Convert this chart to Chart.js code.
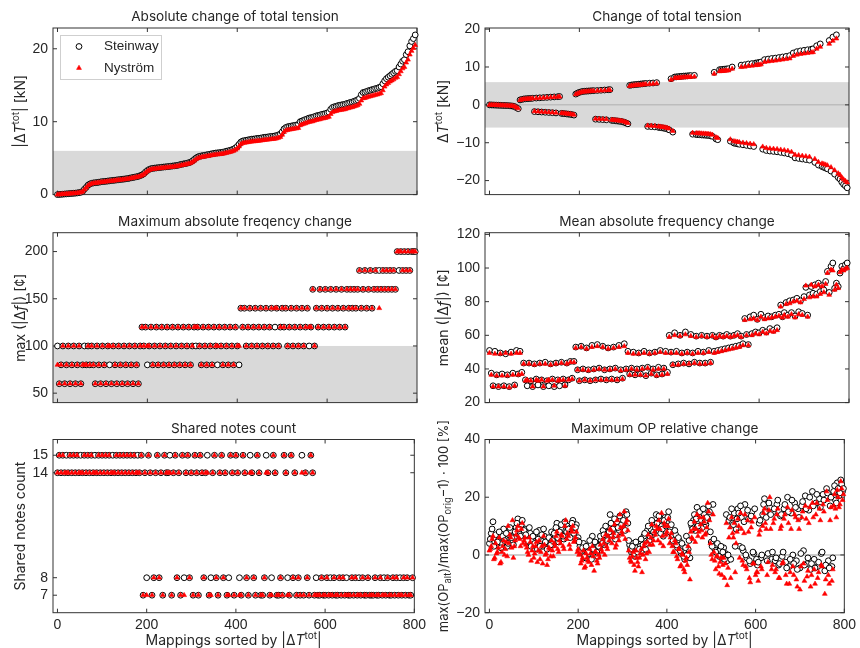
<!DOCTYPE html>
<html>
<head>
<meta charset="utf-8">
<script src="https://cdn.jsdelivr.net/npm/chart.js@4.4.1/dist/chart.umd.min.js"></script>
<style>
  body { margin: 0; background: #fff; }
  #wrap { position: relative; width: 860px; height: 648px; }
  canvas { position: absolute; }
</style>
</head>
<body>
<div id="wrap">
  <canvas id="p1" width="430" height="208" style="left:0;top:0"></canvas>
  <canvas id="p2" width="430" height="208" style="left:430px;top:0"></canvas>
  <canvas id="p3" width="430" height="208" style="left:0;top:208px"></canvas>
  <canvas id="p4" width="430" height="208" style="left:430px;top:208px"></canvas>
  <canvas id="p5" width="430" height="232" style="left:0;top:416px"></canvas>
  <canvas id="p6" width="430" height="232" style="left:430px;top:416px"></canvas>
</div>
<script>
// mappings are plotted every 4th index (0..796)
const SAMPLE_STEP = 4;
const mappings = Array.from({ length: 200 }, (_, i) => i * SAMPLE_STEP);
// extra in-between mappings (2..798) used for the scattered OP panel
const mappingsMid = mappings.map(m => m + 2);
const xTicks = [0, 200, 400, 600, 800];

// |dT tot| [kN]
const absTensionSteinway = [
  0.0, 0.02, 0.04, 0.06, 0.08, 0.1, 0.12, 0.14, 0.16, 0.18, 0.2, 0.23, 0.27, 0.32, 0.45, 0.75, 1.0, 1.3, 1.45, 1.55,
  1.6, 1.63, 1.66, 1.7, 1.74, 1.78, 1.8, 1.83, 1.86, 1.89, 1.92, 1.95, 1.98, 2.01, 2.04, 2.07, 2.1, 2.13, 2.16, 2.2,
  2.25, 2.3, 2.35, 2.4, 2.45, 2.5, 2.6, 2.7, 2.85, 3.1, 3.3, 3.45, 3.55, 3.6, 3.63, 3.66, 3.69, 3.72, 3.75, 3.78,
  3.8, 3.83, 3.86, 3.89, 3.92, 3.95, 3.98, 4.02, 4.1, 4.15, 4.2, 4.25, 4.3, 4.38, 4.45, 4.6, 4.8, 5.0, 5.15, 5.25,
  5.3, 5.35, 5.4, 5.45, 5.5, 5.55, 5.6, 5.65, 5.7, 5.72, 5.75, 5.78, 5.82, 5.88, 5.95, 6.0, 6.08, 6.15, 6.25, 6.4,
  6.6, 6.9, 7.2, 7.35, 7.4, 7.45, 7.5, 7.55, 7.6, 7.62, 7.65, 7.7, 7.72, 7.75, 7.8, 7.85, 7.88, 7.9, 7.95, 7.98,
  8.0, 8.05, 8.1, 8.2, 8.3, 8.6, 9.0, 9.2, 9.3, 9.35, 9.4, 9.45, 9.5, 9.55, 9.6, 10.0, 10.1, 10.2, 10.3, 10.4,
  10.5, 10.55, 10.6, 10.7, 10.8, 10.85, 10.9, 11.0, 11.05, 11.1, 11.2, 11.3, 11.7, 11.95, 12.05, 12.1, 12.2, 12.25, 12.3, 12.35,
  12.4, 12.5, 12.55, 12.65, 12.7, 12.8, 12.9, 13.0, 13.2, 13.7, 14.0, 14.05, 14.15, 14.25, 14.3, 14.4, 14.45, 14.55, 14.6, 14.7,
  14.8, 15.2, 15.6, 15.9, 16.1, 16.3, 16.5, 16.7, 16.9, 17.0, 17.5, 17.9, 18.3, 18.5, 19.2, 19.6, 20.4, 21.0, 21.4, 21.9
];
const absTensionNystrom = [
  0.0, 0.02, 0.04, 0.06, 0.08, 0.1, 0.12, 0.13, 0.15, 0.17, 0.19, 0.22, 0.26, 0.3, 0.42, 0.7, 0.95, 1.25, 1.4, 1.5,
  1.55, 1.58, 1.61, 1.65, 1.69, 1.73, 1.75, 1.78, 1.81, 1.84, 1.87, 1.9, 1.93, 1.96, 1.99, 2.02, 2.05, 2.08, 2.11, 2.15,
  2.2, 2.24, 2.29, 2.34, 2.39, 2.44, 2.53, 2.63, 2.78, 3.0, 3.2, 3.35, 3.45, 3.5, 3.53, 3.56, 3.59, 3.62, 3.65, 3.68,
  3.7, 3.72, 3.75, 3.78, 3.81, 3.84, 3.87, 3.9, 3.97, 4.02, 4.07, 4.12, 4.17, 4.24, 4.31, 4.45, 4.64, 4.83, 4.98, 5.07,
  5.12, 5.17, 5.21, 5.26, 5.3, 5.35, 5.4, 5.44, 5.49, 5.5, 5.53, 5.56, 5.6, 5.65, 5.72, 5.77, 5.84, 5.9, 6.0, 6.14,
  6.3, 6.6, 6.9, 7.05, 7.1, 7.14, 7.18, 7.22, 7.27, 7.29, 7.31, 7.35, 7.37, 7.4, 7.44, 7.48, 7.51, 7.53, 7.57, 7.6,
  7.62, 7.66, 7.71, 7.8, 7.9, 8.2, 8.58, 8.77, 8.86, 8.9, 8.95, 9.0, 9.04, 9.08, 9.13, 9.5, 9.6, 9.7, 9.78, 9.87,
  9.96, 10.0, 10.05, 10.14, 10.23, 10.28, 10.32, 10.41, 10.45, 10.5, 10.58, 10.67, 11.05, 11.3, 11.4, 11.45, 11.54, 11.58, 11.62, 11.66,
  11.7, 11.8, 11.85, 11.94, 11.98, 12.07, 12.16, 12.25, 12.44, 12.9, 13.2, 13.24, 13.33, 13.42, 13.47, 13.55, 13.6, 13.69, 13.73, 13.82,
  13.9, 14.3, 14.8, 15.1, 15.3, 15.5, 15.65, 15.8, 16.0, 16.1, 16.5, 16.9, 17.3, 17.5, 18.1, 18.5, 19.2, 19.7, 20.1, 20.5
];

// dT tot [kN]
const tensionSteinway = [
  0, -0.02, -0.04, -0.06, -0.08, -0.1, -0.12, -0.14, -0.16, -0.18, -0.2, -0.23, -0.27, -0.32, -0.45, -0.75, -1.0, 1.3, 1.45, 1.55,
  1.6, 1.63, 1.66, 1.7, 1.74, -1.78, 1.8, -1.83, 1.86, -1.89, 1.92, -1.95, 1.98, -2.01, 2.04, -2.07, 2.1, -2.13, 2.16, 2.2,
  -2.25, -2.3, -2.35, -2.4, -2.45, -2.5, -2.6, -2.7, 2.85, 3.1, 3.3, 3.45, 3.55, 3.6, 3.63, 3.66, 3.69, 3.72, 3.75, -3.78,
  3.8, -3.83, 3.86, -3.89, 3.92, -3.95, 3.98, 4.02, -4.1, -4.15, -4.2, -4.25, -4.3, -4.38, -4.45, -4.6, -4.8, -5.0, 5.15, 5.25,
  5.3, 5.35, 5.4, 5.45, 5.5, 5.55, 5.6, 5.65, -5.7, 5.72, -5.75, 5.78, -5.82, 5.88, -5.95, -6.0, -6.08, -6.15, -6.25, -6.4,
  -6.6, 6.9, -7.2, 7.35, 7.4, 7.45, 7.5, 7.55, 7.6, 7.62, 7.65, 7.7, 7.72, -7.75, 7.8, -7.85, -7.88, -7.9, -7.95, -7.98,
  -8.0, -8.05, -8.1, -8.2, -8.3, 8.6, -9.0, -9.2, 9.3, 9.35, 9.4, 9.45, 9.5, 9.55, -9.6, 10.0, -10.1, -10.2, -10.3, -10.4,
  10.5, -10.55, 10.6, -10.7, 10.8, -10.85, 10.9, -11.0, 11.05, 11.1, 11.2, 11.3, -11.7, 11.95, -12.05, 12.1, -12.2, 12.25, -12.3, 12.35,
  -12.4, 12.5, -12.55, 12.65, -12.7, 12.8, -12.9, 13.0, -13.2, 13.7, -14.0, 14.05, -14.15, 14.25, -14.3, 14.4, -14.45, 14.55, -14.6, 14.7,
  14.8, -15.2, 15.6, -15.9, 16.1, -16.3, -16.5, -16.7, -16.9, 17.0, -17.5, 17.9, -18.3, 18.5, -19.2, -19.6, -20.4, -21.0, -21.4, -21.9
];
const tensionNystrom = [
  0, -0.02, -0.04, -0.06, -0.08, -0.1, -0.12, -0.13, -0.15, -0.17, -0.19, -0.22, -0.26, -0.3, -0.42, -0.7, -0.95, 1.25, 1.4, 1.5,
  1.55, 1.58, 1.61, 1.65, 1.69, -1.73, 1.75, -1.78, 1.81, -1.84, 1.87, -1.9, 1.93, -1.96, 1.99, -2.02, 2.05, -2.08, 2.11, 2.15,
  -2.2, -2.24, -2.29, -2.34, -2.39, -2.44, -2.53, -2.63, 2.78, 3.0, 3.2, 3.35, 3.45, 3.5, 3.53, 3.56, 3.59, 3.62, 3.65, -3.68,
  3.7, -3.72, 3.75, -3.78, 3.81, -3.84, 3.87, 3.9, -3.97, -4.02, -4.07, -4.12, -4.17, -4.24, -4.31, -4.45, -4.64, -4.83, 4.98, 5.07,
  5.12, 5.17, 5.21, 5.26, 5.3, 5.35, 5.4, 5.44, -5.49, 5.5, -5.53, 5.56, -5.6, 5.65, -5.72, -5.77, -5.84, -5.9, -6.0, -6.14,
  -6.3, 6.6, -6.9, 7.05, 7.1, 7.14, 7.18, 7.22, 7.27, 7.29, 7.31, 7.35, 7.37, -7.4, 7.44, -7.48, -7.51, -7.53, -7.57, -7.6,
  -7.62, -7.66, -7.71, -7.8, -7.9, 8.2, -8.58, -8.77, 8.86, 8.9, 8.95, 9.0, 9.04, 9.08, -9.13, 9.5, -9.6, -9.7, -9.78, -9.87,
  9.96, -10.0, 10.05, -10.14, 10.23, -10.28, 10.32, -10.41, 10.45, 10.5, 10.58, 10.67, -11.05, 11.3, -11.4, 11.45, -11.54, 11.58, -11.62, 11.66,
  -11.7, 11.8, -11.85, 11.94, -11.98, 12.07, -12.16, 12.25, -12.44, 12.9, -13.2, 13.24, -13.33, 13.42, -13.47, 13.55, -13.6, 13.69, -13.73, 13.82,
  13.9, -14.3, 14.8, -15.1, 15.3, -15.5, -15.65, -15.8, -16.0, 16.1, -16.5, 16.9, -17.3, 17.5, -18.1, -18.5, -19.2, -19.7, -20.1, -20.5
];

// max(|df|) [cent]
const maxDfSteinway = [
  100, 60, 80, 100, 60, 80, 100, 60, 80, 100, 60, 80, 100, 60, 80, 100, 80, 100, 80, 100,
  80, 60, 100, 80, 60, 100, 80, 60, 100, 80, 60, 100, 80, 60, 100, 80, 60, 100, 80, 60,
  100, 80, 60, 100, 80, 60, 100, 120, 100, 120, 80, 100, 120, 80, 100, 120, 80, 100, 120, 80,
  100, 120, 80, 100, 120, 80, 100, 120, 80, 100, 120, 80, 100, 120, 80, 100, 120, 100, 120, 100,
  80, 120, 100, 80, 120, 100, 80, 120, 100, 80, 120, 100, 80, 120, 100, 80, 120, 100, 80, 120,
  100, 80, 140, 120, 140, 100, 120, 140, 100, 120, 140, 100, 120, 140, 100, 120, 140, 100, 120, 140,
  100, 120, 140, 100, 120, 140, 120, 140, 100, 120, 140, 100, 120, 140, 100, 120, 140, 100, 120, 140,
  100, 120, 160, 100, 140, 120, 160, 140, 120, 160, 140, 120, 160, 140, 120, 160, 140, 120, 160, 140,
  120, 160, 140, 160, 140, 160, 140, 160, 180, 140, 160, 180, 140, 160, 180, 140, 160, 180, 160, 180,
  160, 180, 160, 180, 160, 180, 160, 180, 160, 200, 180, 200, 180, 200, 180, 200, 180, 200, 200, 200
];
const maxDfNystrom = [
  80, 60, 80, 100, 60, 80, 100, 60, 80, 100, 60, 80, 100, 60, 80, 80, 80, 100, 80, 100,
  80, 60, 100, 80, 60, 100, 80, 60, 100, 100, 60, 100, 80, 60, 100, 80, 60, 100, 80, 60,
  100, 80, 60, 100, 80, 60, 100, 120, 100, 120, 100, 100, 120, 80, 100, 120, 80, 100, 120, 80,
  100, 120, 80, 100, 120, 80, 100, 120, 80, 100, 120, 80, 100, 120, 80, 100, 120, 120, 120, 100,
  80, 120, 100, 80, 120, 100, 80, 120, 100, 100, 120, 100, 80, 120, 100, 80, 120, 100, 80, 120,
  100, 100, 140, 120, 140, 100, 120, 140, 100, 120, 140, 100, 120, 140, 100, 120, 140, 100, 120, 140,
  100, 140, 140, 100, 120, 140, 120, 140, 100, 120, 140, 100, 120, 140, 100, 120, 140, 100, 120, 140,
  120, 120, 160, 100, 140, 120, 160, 140, 120, 160, 140, 120, 160, 140, 120, 160, 140, 120, 160, 140,
  120, 160, 140, 160, 140, 160, 140, 160, 180, 140, 160, 180, 140, 160, 180, 140, 160, 180, 160, 140,
  160, 180, 160, 180, 160, 180, 160, 180, 160, 200, 200, 200, 180, 200, 180, 200, 180, 200, 200, 200
];

// mean(|df|) [cent]
const meanDfSteinway = [
  51, 37.5, 30, 50.5, 36.5, 29.5, 49.5, 37, 30, 49, 36.5, 29.5, 50, 37.5, 30.5, 51, 37, 50.5, 38, 43.5,
  33.5, 30, 43.5, 33, 29.5, 43, 34, 30.5, 43.5, 33.5, 29.5, 44, 33, 30, 43, 34, 29.5, 43.5, 33.5, 30,
  44, 34, 30.5, 43.5, 33.5, 44.5, 34.5, 44.5, 53, 39.5, 33, 53.5, 40, 33.5, 52.5, 39.5, 33, 54, 40, 33.5,
  54.5, 40.5, 34, 53.5, 39.5, 33.5, 52.5, 40, 34, 53, 40.5, 33.5, 54, 39.5, 34.5, 55, 40, 50.5, 37, 40.5,
  50, 36.5, 40, 49.5, 37, 40.5, 50.5, 36, 41, 49.5, 37.5, 40, 50, 36.5, 41, 51, 37, 40.5, 50.5, 38,
  60, 50, 42.5, 61.5, 50.5, 43, 60, 49.5, 43.5, 62, 50, 43, 60.5, 49.5, 44, 59.5, 50.5, 43.5, 60, 50,
  43.5, 59.5, 51, 44, 60, 50.5, 59, 51, 60, 51.5, 59.5, 52, 60.5, 52.5, 59.5, 53, 60, 53.5, 61, 54,
  59.5, 55, 70, 60.5, 54.5, 71, 61, 72, 62, 69.5, 61.5, 72.5, 63, 70.5, 62, 71.5, 64, 71, 63, 72,
  64.5, 72.5, 78, 71, 73.5, 79.5, 72, 80.5, 73.5, 81, 71.5, 82, 74, 80.5, 73, 83, 88.5, 72, 84, 89,
  85, 90, 84.5, 91, 86, 89.5, 87, 92, 98, 85.5, 101, 103, 88, 91, 89, 97, 101, 99.5, 102, 103
];
const meanDfNystrom = [
  49.5, 36.5, 29.5, 49, 36, 29.5, 49, 36, 29.5, 49.5, 36, 29, 49, 36.5, 30, 49.5, 36.5, 49.5, 37, 43,
  33, 33.5, 43, 33, 29.5, 42.5, 33.5, 33, 43, 33.5, 29.5, 43, 33, 33.5, 42.5, 33.5, 30, 43, 33, 33.5,
  43.5, 33.5, 30, 43, 33.5, 44, 34, 44, 52.5, 39.5, 33, 53, 39.5, 33.5, 52, 39, 33, 53, 39.5, 33.5,
  53.5, 40, 33.5, 53, 39.5, 33.5, 52, 39.5, 33.5, 52.5, 40, 33.5, 53, 39, 34, 53.5, 39.5, 49.5, 36.5, 40,
  49, 36.5, 39.5, 49, 36.5, 40, 49.5, 36, 40.5, 49, 37, 39.5, 49.5, 36, 40, 50, 36.5, 40, 49.5, 37,
  59, 49.5, 42.5, 60, 49.5, 42.5, 59.5, 49, 43, 60.5, 49.5, 43, 59.5, 49, 43.5, 59, 49.5, 43, 59.5, 49.5,
  43, 59, 50, 43.5, 59.5, 49.5, 58.5, 50, 59.5, 50.5, 59, 51, 59.5, 51.5, 59, 52, 59.5, 52.5, 60, 53,
  59, 54, 69, 60, 54, 69.5, 60, 70, 61, 69, 60.5, 71, 62, 69.5, 61, 70, 62.5, 70.5, 62, 71,
  63, 71.5, 77, 70.5, 72, 78.5, 71, 79, 72.5, 80, 70.5, 80.5, 72.5, 79.5, 72, 81.5, 89.5, 71, 82.5, 90,
  83, 89, 83, 90, 84.5, 89, 85.5, 90.5, 97, 84, 99, 98.5, 87, 90, 88, 97.5, 99, 98.5, 99.5, 100
];

// shared notes count
const sharedSteinway = [
  14, 15, 14, 15, 14, 15, 14, 15, 14, 15, 14, 15, 14, 15, 14, 15, 14, 15, 14, 15,
  14, 15, 14, 15, 14, 15, 14, 15, 14, 15, 14, 15, 14, 15, 14, 15, 14, 15, 14, 15,
  14, 15, 14, 15, 14, 15, 14, 15, 7, 14, 8, 15, 14, 7, 8, 14, 15, 8, 14, 7,
  15, 14, 14, 15, 7, 14, 15, 8, 14, 7, 15, 8, 14, 15, 8, 14, 7, 15, 14, 7,
  15, 14, 8, 14, 15, 7, 8, 14, 15, 8, 7, 14, 15, 8, 14, 7, 8, 15, 14, 7,
  15, 14, 8, 7, 15, 14, 8, 7, 15, 14, 8, 7, 15, 14, 7, 7, 8, 15, 14, 7,
  8, 15, 14, 7, 7, 8, 7, 15, 14, 8, 7, 15, 8, 14, 7, 8, 7, 15, 7, 14,
  8, 7, 15, 14, 7, 8, 7, 7, 8, 7, 7, 8, 7, 8, 7, 8, 7, 7, 8, 7,
  8, 7, 8, 7, 7, 8, 7, 8, 7, 8, 7, 8, 7, 7, 8, 7, 7, 7, 8, 7,
  7, 8, 7, 8, 7, 8, 7, 7, 8, 7, 8, 7, 8, 7, 8, 7, 8, 7, 7, 8
];
const sharedNystrom = [
  14, 15, 14, 15, 14, 14, 14, 15, 14, 15, 14, 15, 14, 14, 14, 15, 14, 15, 14, 15,
  14, 14, 14, 15, 14, 15, 14, 15, 14, 15, 14, 14, 14, 15, 14, 15, 14, 15, 14, 15,
  14, 15, 14, 15, 14, 14, 14, 15, 7, 14, 7, 15, 14, 7, 8, 14, 15, 8, 14, 7,
  15, 14, 14, 14, 7, 14, 15, 8, 14, 7, 15, 7, 14, 15, 8, 14, 7, 15, 14, 7,
  15, 14, 8, 14, 14, 7, 7, 14, 15, 8, 7, 14, 15, 8, 14, 7, 7, 15, 14, 7,
  15, 14, 7, 7, 15, 14, 8, 7, 14, 14, 8, 7, 15, 14, 7, 7, 8, 14, 14, 7,
  7, 15, 14, 7, 7, 8, 7, 15, 14, 7, 7, 15, 8, 14, 7, 8, 7, 14, 7, 14,
  8, 7, 15, 14, 7, 7, 7, 7, 8, 7, 7, 8, 7, 7, 7, 8, 7, 7, 8, 7,
  8, 7, 7, 7, 7, 8, 7, 8, 7, 7, 7, 8, 7, 7, 8, 7, 7, 7, 8, 7,
  7, 8, 7, 7, 7, 8, 7, 7, 8, 7, 8, 7, 7, 7, 8, 7, 8, 7, 7, 8
];

// max OP relative change [%], at mappings
const opSteinway = [
  4, 7.5, 11.5, 6, 3.5, 5, 6.5, 4, 9, 5.5, 3, 7, 8.5, 4.5, 6, 9.5, 12.5, 8, 10, 7,
  9, 6.5, 4.5, 7.5, 5, 3.5, 6, 2, 8.5, 5, 3, 6.5, 4, 2.5, 5.5, 8, 3.5, 6, 11, 4.5,
  7, 9, 5.5, 8.5, 10, 7.5, 9.5, 12, 8, 10.5, 6, 3, 1, 4, -1, 2, 0.5, 3.5, 6.5, 1.5,
  4, -0.5, 2.5, 5, 8.5, 3.5, 6, 9.5, 14, 7, 10, 5.5, 11.5, 8, 12.5, 10, 13, 15, 11, 3.5,
  1, 4, -0.5, 2.5, 0, 3, 1.5, 6.5, 2, 8.5, 5, 9, 7, 11, 14, 8.5, 12, 10, 6.5, 13,
  11, 15, 9, 6.5, 4, 7, 2.5, 5, 0.5, 3, -1.5, 6.5, 2, -1, 10, 12, 8.5, 16.5, 11, 13.5,
  9.5, 14, 10.5, 12.5, 15, 4.5, 17.5, 2, 3.5, 0, 1.5, -1, 2.5, 0.5, -2, 12, -1.5, 11, 14.5, 9,
  16, 3, 13, 1.5, 17.5, -1, 12.5, -3, 15, 0.5, -2.5, -3.5, 11, -1, 14, 19.5, 13, 0.5, 16.5, -1.5,
  15, -2, 17.5, -3.5, 13.5, -0.5, 16, -2.5, 20, -4, 14.5, 0, 18, -2, 16, -4.5, 17, 1.5, 20.5, -3,
  15.5, -5, 22, -1.5, 18, -4, 19.5, 0.5, 21, -5.5, 23, -2, 17, -4, 22, 19, 25, 20.5, 26, 22
];
const opNystrom = [
  1.5, 3, 6.5, -1, 0.5, 2.5, -3, 1, 5, 2, -0.5, 4, 6, 12, 3, 7, 10, 5.5, 9, 4,
  6, 2.5, 0, 4.5, 1.5, -1, 3, -2.5, 5, 1, -3, 3.5, 0.5, -1.5, 2, 5, -0.5, 3, 8, 1,
  4, 6.5, 2, 12, 7.5, 3.5, 9, 10, 5, 8, 2, 0.5, -2, 1.5, -4, -1, -2.5, 0.5, 3, -5.5,
  1, -3, -1, 2, 5.5, 0, 3, 6.5, 9, 4, 7.5, 2.5, 12, 5, 9.5, 7, 15, 11, 8.5, -1,
  -2.5, 1, -5.5, -1, -4, 0.5, -6, 3, -1.5, 4.5, 1, 6, 3.5, 8, 10, 5, 9, 14.5, 3, 10,
  8, 12.5, 6, 3, 1, 4, -1.5, 2, -3.5, 0, -6, -1, 3, -8.5, 6, 9, 4.5, 14, 8, 10.5,
  6, 11.5, 7.5, 18, 12, 0, 14, -2, -0.5, -4, -2.5, -7, -1, -3, -10.5, 6, -8, 7.5, 11, 4,
  12.5, -1, 9, -3.5, 14, -5, 8, -9.5, 11.5, -3, -7, -6, 7, -4, 10, 16, 9, -2.5, 20, -5,
  11, -6, 14, -8, 9, -3, 12.5, -7, 16.5, -10, 9, -4, 14, -8.5, 12, -12, 13, -3, 17, -7.5,
  11, -11, 18, -5, 14, -8, 16, -3.5, 17.5, -13.5, 22, -7, 12, -9, 17, 16, 22.5, 16.5, 25.5, 19
];
// max OP relative change [%], at in-between mappings
const opSteinwayMid = [
  5.5, 9, 3, 7, 4.5, 8, 2.5, 6.5, 5, 7.5, 4, 9.5, 6, 3.5, 8, 11, 9, 6.5, 12, 8.5,
  7, 5, 9.5, 3, 6.5, 4, 8, 5.5, 3, 7, 9, 4.5, 2, 6, 3.5, 5, 7.5, 9.5, 6, 8,
  10.5, 6.5, 11.5, 8, 9, 6, 11, 7.5, 9.5, 5, 4.5, 1.5, 2.5, -0.5, 3, 1, 5, -1.5, 2, 4.5,
  1, 3, 6.5, 4, 7, 10, 5, 8, 11, 9, 12.5, 7, 9.5, 13.5, 10.5, 12, 8.5, 14, 5, 2,
  3, 0.5, 4.5, 1, 2, 5.5, 3.5, 7.5, 4, 10, 6.5, 12, 8, 9.5, 11, 13.5, 7.5, 9, 12, 10,
  13, 8, 10.5, 5, 8.5, 3.5, 6, 1.5, 4, -0.5, 2.5, 0, 5, 11, 9, 14, 12.5, 10, 15, 12,
  16, 11.5, 13, 17, 8, 3, 5.5, 1, 4, -0.5, 3, 1, -1.5, 14, 0, 13, 16, 10.5, 3, 12.5,
  14.5, 17, 2.5, 11.5, 0, 15.5, -2, 13.5, 1, 16, -1.5, -2.5, 12, 0, 17.5, 15, -2, 18, 14, 1,
  16, -1, 19, -3, 14, 1, 17.5, -4.5, 15, -1.5, 19, -3, 16.5, -5, 13, 0.5, 18.5, -3.5, 16, -1,
  20, -3, 17, -4.5, 21, -2.5, 16.5, 1, 19, -3.5, 21.5, -4.5, 20, -1, 24, 18, 23, 21.5, 24.5, 23
];
const opNystromMid = [
  2, 5.5, -1.5, 4, 1, 6, -2.5, 3, 0, 4.5, 10, 7, 2.5, -1, 5, 8.5, 6, 3, 11, 5,
  3.5, 1, 6, -2, 3, 0.5, 4.5, 1.5, -1.5, 3, 6.5, 0, -3.5, 2.5, -0.5, 1.5, 4, 6.5, 2, 5,
  7, 3, 10, 5.5, 6.5, 2, 8, 4.5, 6, 1, 0, -3, -1, -4.5, 0.5, -2, 2, -3.5, -0.5, 1,
  -2, 0, 3.5, 1, 4, 7, 2, 5, 8.5, 6, 10.5, 3.5, 6.5, 14, 8, 10, 5.5, 12, 1.5, -2,
  -0.5, -3.5, 1.5, -2.5, -1, 2, 0, 4, 0.5, 7, 3.5, 10.5, 5, 7, 9, 12, 4, 6.5, 11, 7,
  10, 4, 7.5, 1, 5, -0.5, 2, -4, 0.5, -5, -2, -3.5, 1, 8, 5.5, 11.5, 9, 6.5, 13, 8.5,
  13, 7, 9.5, 15, 4, -1.5, 1, -5, -0.5, -6.5, -1, -3.5, -8, 11, -4.5, 9.5, 13, 6, -6, 8,
  10, 14.5, -2, 7.5, -4, 12, -8, 9.5, -3, 13, -6, -9, 8.5, -5, 14.5, 11, -7, 15.5, 9, -3.5,
  12.5, -5, 16, -8, 10, -2.5, 14, -10, 11, -6, 15.5, -7, 13, -11, 9, -4, 15, -9, 12.5, -5.5,
  16.5, -7, 13, -10, 18, -6, 12, -4, 15, -8.5, 19, -10, 16.5, -5, 21, 13, 20, 17.5, 23, 21
];

const yTicksAbsTension = [0, 10, 20];
const yTicksTension = [-20, -10, 0, 10, 20];
const yTicksMaxDf = [50, 100, 150, 200];
const yTicksMeanDf = [20, 40, 60, 80, 100, 120];
const yTicksShared = [7, 8, 14, 15];
const yTicksOp = [-20, 0, 20, 40];

const TEXT_FONT = 'Inter, Lato, sans-serif';
const TICK_FONT = '"Liberation Sans", Arial, sans-serif';
const INK = '#262626';

const dT = [{ t: '|\u0394' }, { t: 'T', it: 1 }, { t: 'tot', sup: 1 }, { t: '|' }];

const toPoints = (ys, xs) => ys.map((y, i) => ({ x: (xs || mappings)[i], y }));

const panels = {
  p1: { stein: toPoints(absTensionSteinway), nys: toPoints(absTensionNystrom), yMin: 0, yMax: 22.85, yTicks: yTicksAbsTension,
        title: 'Absolute change of total tension', shade: [0, 6], legend: true, labSize: 14,
        ylab: [{ t: '|\u0394' }, { t: 'T', it: 1 }, { t: 'tot', sup: 1 }, { t: '| [kN]' }] },
  p2: { stein: toPoints(tensionSteinway), nys: toPoints(tensionNystrom), yMin: -23.7, yMax: 20.3, yTicks: yTicksTension,
        title: 'Change of total tension', shade: [-6, 6], zero: true, labSize: 14,
        ylab: [{ t: '\u0394' }, { t: 'T', it: 1 }, { t: 'tot', sup: 1 }, { t: ' [kN]' }] },
  p3: { stein: toPoints(maxDfSteinway), nys: toPoints(maxDfNystrom), yMin: 40, yMax: 220, yTicks: yTicksMaxDf,
        title: 'Maximum absolute freqency change', shade: [40, 100], labSize: 14,
        ylab: [{ t: 'max (|\u0394' }, { t: 'f', it: 1 }, { t: '|) [\u00a2]' }] },
  p4: { stein: toPoints(meanDfSteinway), nys: toPoints(meanDfNystrom), yMin: 20, yMax: 121, yTicks: yTicksMeanDf,
        title: 'Mean absolute frequency change', labSize: 14,
        ylab: [{ t: 'mean (|\u0394' }, { t: 'f', it: 1 }, { t: '|) [\u00a2]' }] },
  p5: { stein: toPoints(sharedSteinway), nys: toPoints(sharedNystrom), yMin: 6, yMax: 15.9, yTicks: yTicksShared,
        title: 'Shared notes count', xlab: true, labSize: 14,
        ylab: [{ t: 'Shared notes count' }] },
  p6: { stein: toPoints(opSteinway).concat(toPoints(opSteinwayMid, mappingsMid)),
        nys: toPoints(opNystrom).concat(toPoints(opNystromMid, mappingsMid)),
        yMin: -20, yMax: 40, yTicks: yTicksOp,
        title: 'Maximum OP relative change', zero: true, xlab: true, labSize: 13,
        ylab: [{ t: 'max(OP' }, { t: 'alt', sub: 1 }, { t: ')/max(OP' }, { t: 'orig', sub: 1 }, { t: '\u22121) \u00b7 100 [%]' }] }
};

// layout per column / row
const colGeom = { left: { yAxisW: 53, padR: 13, labX: 20 }, right: { yAxisW: 55, padR: 11, labX: 13 } };
const rowGeom = [
  { padT: 28, padB: 6, xAxisH: 0 },
  { padT: 24.7, padB: 9.3, xAxisH: 0 },
  { padT: 23.5, padB: 0, xAxisH: 35.3 }
];

function richText(ctx, parts, cx, cy, size, rotate) {
  ctx.save();
  ctx.translate(cx, cy);
  if (rotate) ctx.rotate(-Math.PI / 2);
  const items = parts.map(p => {
    const s = (p.sup || p.sub) ? size * 0.72 : size;
    const f = (p.it ? 'italic ' : '') + s + 'px ' + TEXT_FONT;
    ctx.font = f;
    return { p, f, w: ctx.measureText(p.t).width };
  });
  const total = items.reduce((a, b) => a + b.w, 0);
  let x = -total / 2;
  ctx.fillStyle = INK;
  ctx.textAlign = 'left';
  ctx.textBaseline = 'alphabetic';
  items.forEach(({ p, f, w }) => {
    ctx.font = f;
    const dy = p.sup ? -size * 0.42 : p.sub ? size * 0.28 : 0;
    ctx.fillText(p.t, x, size * 0.36 + dy);
    x += w;
  });
  ctx.restore();
}

const framePlugin = {
  id: 'frame',
  beforeDatasetsDraw(chart) {
    const p = panels[chart.canvas.id];
    const { ctx, chartArea: a, scales: { x, y } } = chart;
    ctx.save();
    if (p.shade) {
      const top = Math.max(a.top, y.getPixelForValue(p.shade[1]));
      const bot = Math.min(a.bottom, y.getPixelForValue(p.shade[0]));
      ctx.fillStyle = '#d9d9d9';
      ctx.fillRect(a.left, top, a.right - a.left, bot - top);
    }
    if (p.zero) {
      const yz = y.getPixelForValue(0);
      ctx.strokeStyle = '#bdbdbd';
      ctx.lineWidth = 1.5;
      ctx.beginPath(); ctx.moveTo(a.left, yz); ctx.lineTo(a.right, yz); ctx.stroke();
    }
    // axes box with inward ticks
    ctx.strokeStyle = '#333';
    ctx.lineWidth = 1;
    ctx.strokeRect(a.left, a.top, a.right - a.left, a.bottom - a.top);
    const tl = 4;
    ctx.beginPath();
    x.ticks.forEach(t => {
      const px = x.getPixelForValue(t.value);
      ctx.moveTo(px, a.bottom); ctx.lineTo(px, a.bottom - tl);
      ctx.moveTo(px, a.top); ctx.lineTo(px, a.top + tl);
    });
    y.ticks.forEach(t => {
      const py = y.getPixelForValue(t.value);
      ctx.moveTo(a.left, py); ctx.lineTo(a.left + tl, py);
      ctx.moveTo(a.right, py); ctx.lineTo(a.right - tl, py);
    });
    ctx.stroke();
    ctx.restore();
  },
  afterDraw(chart) {
    const p = panels[chart.canvas.id];
    const { ctx, chartArea: a } = chart;
    const g = p.col;
    richText(ctx, [{ t: p.title }], (a.left + a.right) / 2, a.top - 11.5, 13.6);
    richText(ctx, p.ylab, g.labX, (a.top + a.bottom) / 2, p.labSize, true);
    if (p.xlab) richText(ctx, [{ t: 'Mappings sorted by ' }].concat(dT), (a.left + a.right) / 2, a.bottom + 27, 14);
    if (p.legend) {
      const ds = chart.data.datasets;
      ctx.save();
      ctx.fillStyle = '#fff';
      ctx.fillRect(60, 35, 102, 45);
      ctx.strokeStyle = '#cfcfcf';
      ctx.lineWidth = 1;
      ctx.strokeRect(60.5, 35.5, 101, 44);
      ctx.fillStyle = '#fff'; ctx.strokeStyle = '#000';
      Chart.helpers.drawPoint(ctx, { pointStyle: 'circle', radius: 2.9, borderWidth: 1 }, 79, 46.5);
      ctx.fillStyle = '#ff0000'; ctx.strokeStyle = '#ff0000';
      ctx.lineWidth = 0.6;
      Chart.helpers.drawPoint(ctx, { pointStyle: 'triangle', radius: 2.8, borderWidth: 0.6 }, 79, 68);
      ctx.fillStyle = INK;
      ctx.font = '13.5px ' + TICK_FONT;
      ctx.textBaseline = 'middle';
      ctx.fillText(ds[0].label, 104, 46.5);
      ctx.fillText(ds[1].label, 104, 68);
      ctx.restore();
    }
  }
};
Chart.register(framePlugin);

const fmt = v => (v < 0 ? '\u2212' + Math.abs(v) : String(v));

function makePanel(id, colKey, row) {
  const p = panels[id];
  const col = colGeom[colKey];
  const r = rowGeom[row];
  p.col = col;
  return new Chart(document.getElementById(id), {
    type: 'scatter',
    data: {
      datasets: [
        { label: 'Steinway', data: p.stein, pointStyle: 'circle', pointRadius: 2.9, borderWidth: 1,
          borderColor: '#000', backgroundColor: '#fff', order: 1, clip: false },
        { label: 'Nystr\u00f6m', data: p.nys, pointStyle: 'triangle', pointRadius: 2.8, borderWidth: 0.6,
          borderColor: '#ff0000', backgroundColor: '#ff0000', order: 0, clip: false }
      ]
    },
    options: {
      responsive: false, animation: false, devicePixelRatio: 1, events: [],
      layout: { padding: { top: r.padT, right: col.padR, bottom: r.padB, left: 0 } },
      plugins: { legend: { display: false }, tooltip: { enabled: false }, title: { display: false } },
      scales: {
        x: {
          type: 'linear', min: -10, max: 800,
          grid: { display: false, drawTicks: false }, border: { display: false },
          afterBuildTicks: s => { s.ticks = xTicks.map(v => ({ value: v })); },
          afterFit: s => { s.height = r.xAxisH; },
          ticks: { display: !!p.xlab, autoSkip: false, maxRotation: 0, padding: 4, color: INK,
                   font: { family: TICK_FONT, size: 14 } }
        },
        y: {
          type: 'linear', min: p.yMin, max: p.yMax,
          grid: { display: false, drawTicks: false }, border: { display: false },
          afterBuildTicks: s => { s.ticks = p.yTicks.map(v => ({ value: v })); },
          afterFit: s => { s.width = col.yAxisW; },
          ticks: { padding: 5, color: INK, callback: fmt, font: { family: TICK_FONT, size: 14 } }
        }
      }
    }
  });
}

makePanel('p1', 'left', 0);
makePanel('p2', 'right', 0);
makePanel('p3', 'left', 1);
makePanel('p4', 'right', 1);
makePanel('p5', 'left', 2);
makePanel('p6', 'right', 2);
</script>
</body>
</html>
